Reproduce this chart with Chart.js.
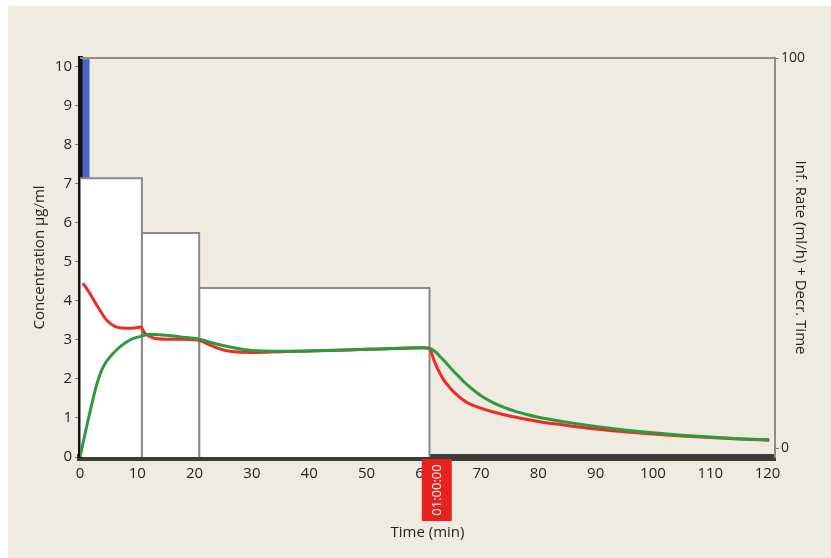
<!DOCTYPE html>
<html>
<head>
<meta charset="utf-8">
<script src="https://cdn.jsdelivr.net/npm/chart.js@4/dist/chart.umd.min.js"></script>
<style>
  html, body { margin: 0; padding: 0; background: #ffffff; }
  #wrap { position: absolute; left: 8px; top: 6px; width: 823px; height: 552px; background: #efebe0; }
  canvas { display: block; }
</style>
</head>
<body>
<div id="wrap"><canvas id="chart" width="823" height="552"></canvas></div>
<script>
// Infusion rate steps (drawn in concentration units as on the display)
const stepStart = [0, 10.8, 20.8];
const stepEnd = [10.8, 20.8, 61];
const stepLevel = [7.15, 5.74, 4.33];

// Bolus bar
const bolusStart = 0.4;
const bolusEnd = 1.7;
const bolusTop = 10.2;

// Plasma concentration (red)
const plasmaTime = [0.5, 1.7, 2.9, 4.6, 5.5, 6.4, 8.7, 10.1, 10.6, 11.3, 12.8, 15, 17.5, 20.5, 21.5, 22.7, 24.5, 26.2, 30, 35, 40, 45, 50, 55, 60, 61, 61.5, 62, 62.8, 63.5, 64.6, 65.5, 66.8, 68, 69.8, 72, 75, 80, 85, 90, 95, 100, 105, 110, 115, 120.3];
const plasmaConc = [4.46, 4.2, 3.9, 3.52, 3.4, 3.33, 3.3, 3.32, 3.33, 3.18, 3.05, 3.02, 3.02, 3.0, 2.95, 2.87, 2.77, 2.71, 2.68, 2.7, 2.72, 2.74, 2.76, 2.78, 2.8, 2.79, 2.6, 2.4, 2.15, 1.97, 1.77, 1.63, 1.47, 1.36, 1.26, 1.16, 1.05, 0.91, 0.81, 0.72, 0.65, 0.59, 0.54, 0.5, 0.46, 0.43];

// Effect site concentration (green)
const effectTime = [0, 1.5, 2.9, 4.0, 5.8, 8.7, 10.8, 12.2, 15, 17.5, 20.9, 23, 26.2, 30, 35, 40, 50, 60, 61, 62, 63, 64, 65, 66, 67, 68, 69, 70, 72, 74, 76, 78, 80, 85, 90, 95, 100, 105, 110, 115, 120.3];
const effectConc = [0, 1.0, 1.85, 2.3, 2.66, 3.0, 3.1, 3.15, 3.12, 3.08, 3.02, 2.93, 2.82, 2.73, 2.71, 2.72, 2.76, 2.8, 2.79, 2.7, 2.55, 2.4, 2.23, 2.08, 1.93, 1.8, 1.68, 1.57, 1.4, 1.27, 1.17, 1.09, 1.02, 0.89, 0.78, 0.69, 0.62, 0.56, 0.51, 0.47, 0.44];

// Axis ticks
const timeTicks = [0, 10, 20, 30, 40, 50, 60, 70, 80, 90, 100, 110, 120];
const concTicks = [0, 1, 2, 3, 4, 5, 6, 7, 8, 9, 10];
const rateTicks = [0, 100];

const markerTime = 60;
const markerText = '01:00:00';

const textColor = '#231f20';
const tickFont = { family: 'Open Sans', size: 15 };

const zip = (xs, ys) => xs.map((x, i) => ({ x: x, y: ys[i] }));

const stepSets = stepStart.map((s, i) => ({
  data: [
    { x: s, y: 0 }, { x: s, y: stepLevel[i] },
    { x: stepEnd[i], y: stepLevel[i] }, { x: stepEnd[i], y: 0 }
  ],
  borderColor: '#8a8a8a',
  borderWidth: 2,
  backgroundColor: '#ffffff',
  fill: 'origin',
  tension: 0,
  pointRadius: 0,
  order: 2
}));

// Top frame line and the time marker below the axis
const decorPlugin = {
  id: 'decor',
  beforeDatasetsDraw(chart) {
    const { ctx, chartArea } = chart;
    ctx.save();
    ctx.strokeStyle = '#8c8c8c';
    ctx.lineWidth = 2;
    ctx.beginPath();
    ctx.moveTo(chartArea.left, chartArea.top);
    ctx.lineTo(chartArea.right, chartArea.top);
    ctx.stroke();
    ctx.restore();
  },
  afterDraw(chart) {
    const { ctx, chartArea } = chart;
    const x = chart.scales.x.getPixelForValue(markerTime);
    const top = chartArea.bottom + 2;
    ctx.save();
    ctx.fillStyle = '#e8231f';
    ctx.fillRect(x - 2, top, 30, 62);
    ctx.translate(x + 13, top + 31);
    ctx.rotate(-Math.PI / 2);
    ctx.fillStyle = '#ffffff';
    ctx.font = '13px "Open Sans"';
    ctx.textAlign = 'center';
    ctx.textBaseline = 'middle';
    ctx.fillText(markerText, 0, 1);
    ctx.restore();
  }
};

const curve = (xs, ys, color, order) => ({
  data: zip(xs, ys),
  borderColor: color,
  borderWidth: 3,
  pointRadius: 0,
  fill: false,
  cubicInterpolationMode: 'monotone',
  order: order
});

new Chart(document.getElementById('chart'), {
  type: 'line',
  data: {
    datasets: [
      curve(effectTime, effectConc, '#2e9a3e', 0),
      curve(plasmaTime, plasmaConc, '#ee2b24', 1),
      ...stepSets,
      {
        data: [
          { x: bolusStart, y: 0 }, { x: bolusStart, y: bolusTop },
          { x: bolusEnd, y: bolusTop }, { x: bolusEnd, y: 0 }
        ],
        borderWidth: 0,
        borderColor: '#4a62c8',
        backgroundColor: '#4a62c8',
        fill: 'origin',
        tension: 0,
        pointRadius: 0,
        order: 3
      }
    ]
  },
  options: {
    responsive: false,
    animation: false,
    layout: { padding: { top: 52, left: 0, right: 0, bottom: 0 } },
    plugins: {
      legend: { display: false },
      tooltip: { enabled: false }
    },
    scales: {
      x: {
        type: 'linear',
        min: 0,
        max: 121.3,
        z: 1,
        afterBuildTicks: (axis) => { axis.ticks = timeTicks.map(v => ({ value: v })); },
        afterFit: (axis) => { axis.height = 101; },
        ticks: { color: textColor, font: tickFont, padding: 4, maxRotation: 0 },
        grid: { display: true, drawOnChartArea: false, drawTicks: true, tickLength: 4, tickColor: '#777' },
        border: { display: true, color: '#3b3b3b', width: 7 },
        title: {
          display: true,
          text: 'Time (min)',
          color: textColor,
          font: { family: 'Open Sans', size: 15 },
          padding: { top: 0, bottom: 16 }
        }
      },
      y: {
        position: 'left',
        min: 0,
        max: 10.23,
        z: 1,
        afterBuildTicks: (axis) => { axis.ticks = concTicks.map(v => ({ value: v })); },
        afterFit: (axis) => { axis.width = 72; },
        ticks: { color: textColor, font: tickFont, padding: 3 },
        grid: { display: true, drawOnChartArea: false, drawTicks: true, tickLength: 5, tickColor: '#777' },
        border: { display: true, color: '#111111', width: 5 },
        title: {
          display: true,
          text: 'Concentration µg/ml',
          color: textColor,
          font: { family: 'Open Sans', size: 15 },
          padding: { top: 23, bottom: 0 }
        }
      },
      y2: {
        position: 'right',
        min: -2.3,
        max: 100,
        afterBuildTicks: (axis) => { axis.ticks = rateTicks.map(v => ({ value: v })); },
        afterFit: (axis) => { axis.width = 56; },
        ticks: { color: textColor, font: { family: 'Open Sans', size: 14 }, padding: 2 },
        grid: { display: true, drawOnChartArea: false, drawTicks: true, tickLength: 4, tickColor: '#777' },
        border: { display: true, color: '#8c8c8c', width: 2 },
        title: {
          display: true,
          text: 'Inf. Rate (ml/h) + Decr. Time',
          color: textColor,
          font: { family: 'Open Sans', size: 15 },
          padding: { top: 22, bottom: 0 }
        }
      }
    }
  },
  plugins: [decorPlugin]
});
</script>
</body>
</html>
